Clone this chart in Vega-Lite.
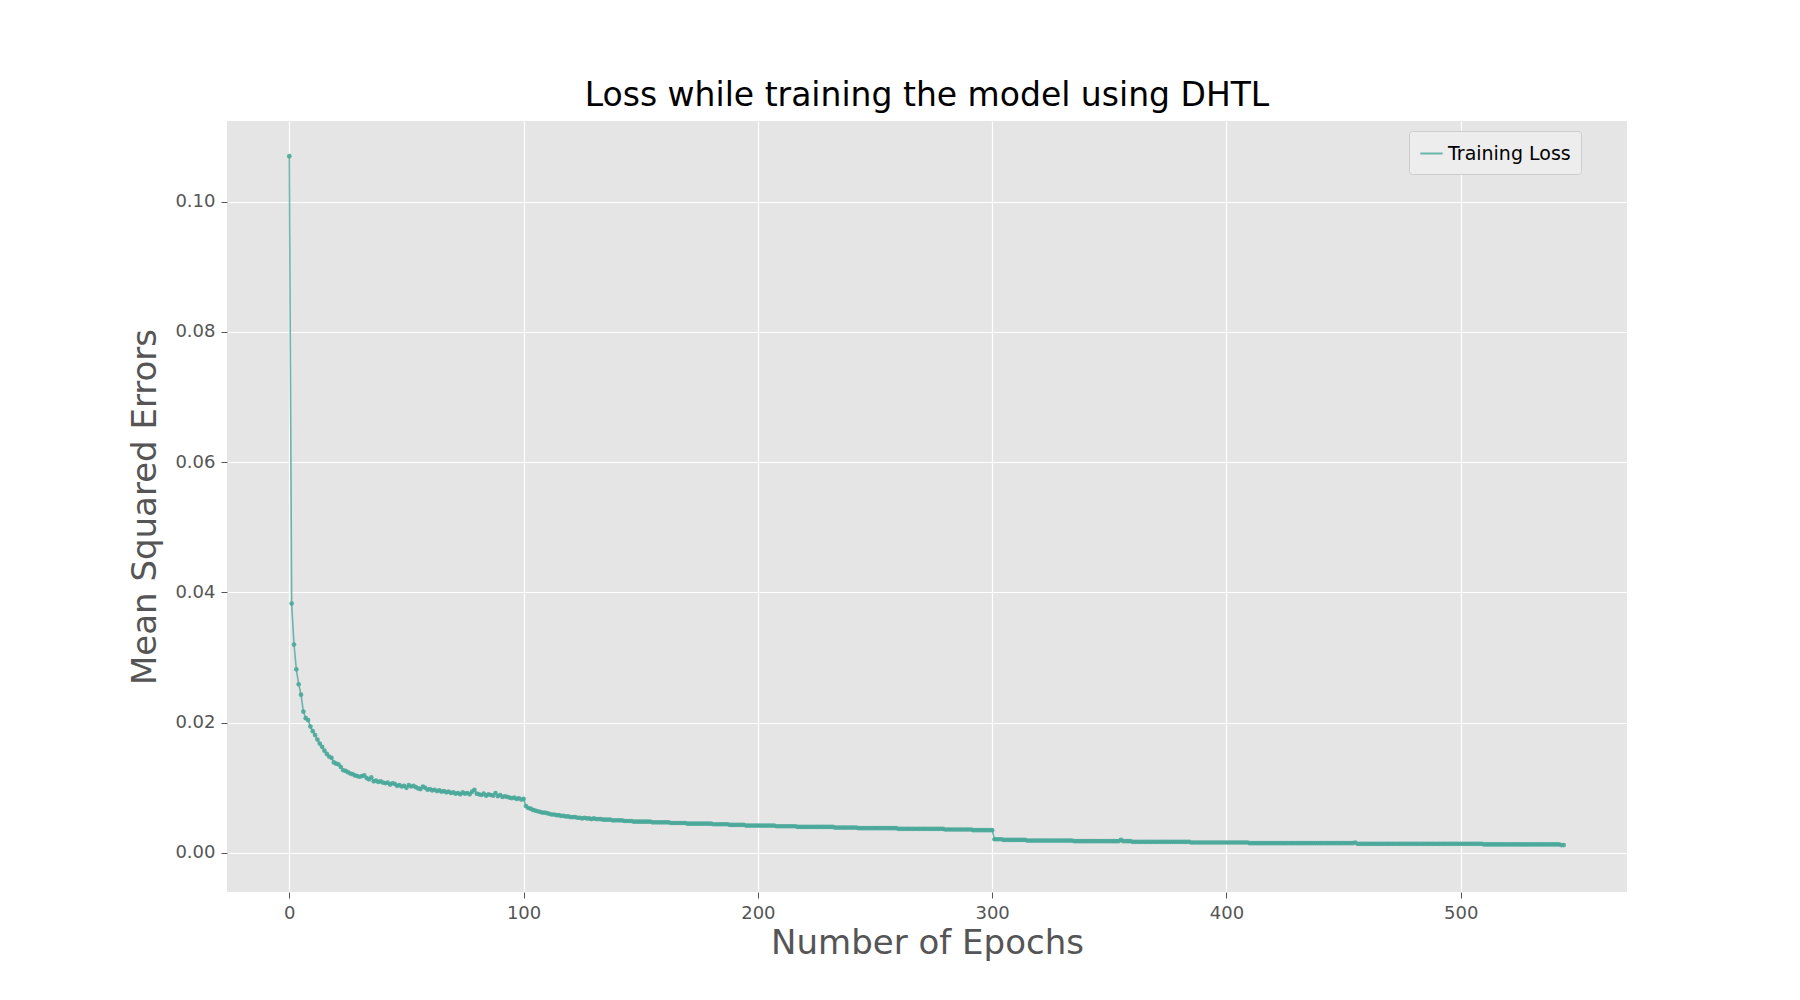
{
  "$schema": "https://vega.github.io/schema/vega-lite/v6.json",
  "autosize": {"type": "none"},
  "width": 1400, "height": 771,
  "padding": {"left": 227, "top": 121, "right": 173, "bottom": 108},
  "background": "white",
  "title": {"text": "Loss while training the model using DHTL", "font": "DejaVu Sans", "fontSize": 33, "fontWeight": "normal", "color": "black", "offset": 8},
  "config": {
    "view": {"fill": "#E5E5E5", "stroke": null},
    "axis": {"gridColor": "white", "gridWidth": 1.2, "domain": false, "tickColor": "#555", "tickSize": 6, "labelFont": "DejaVu Sans", "labelFontSize": 18, "labelColor": "#555", "titleFont": "DejaVu Sans", "titleFontSize": 34, "titleColor": "#555", "titleFontWeight": "normal"}
  },
  "data": {"values": [
{"e":0,"v":0.107},{"e":1,"v":0.0383},{"e":2,"v":0.032},{"e":3,"v":0.0282},{"e":4,"v":0.0259},{"e":5,"v":0.0243},{"e":6,"v":0.0217},{"e":7,"v":0.0207},{"e":8,"v":0.0204},{"e":9,"v":0.0194},{"e":10,"v":0.0187},{"e":11,"v":0.0181},{"e":12,"v":0.0174},{"e":13,"v":0.0168},{"e":14,"v":0.0163},{"e":15,"v":0.0157},{"e":16,"v":0.0152},{"e":17,"v":0.0148},{"e":18,"v":0.0146},{"e":19,"v":0.0139},{"e":20,"v":0.0137},{"e":21,"v":0.0136},{"e":22,"v":0.0132},{"e":23,"v":0.0127},{"e":24,"v":0.0126},
{"e":25,"v":0.0124},{"e":26,"v":0.0122},{"e":27,"v":0.0121},{"e":28,"v":0.0119},{"e":29,"v":0.0118},{"e":30,"v":0.0117},{"e":31,"v":0.0118},{"e":32,"v":0.0119},{"e":33,"v":0.0115},{"e":34,"v":0.0113},{"e":35,"v":0.0116},{"e":36,"v":0.0110},{"e":37,"v":0.0111},{"e":38,"v":0.0109},{"e":39,"v":0.0110},{"e":40,"v":0.0108},{"e":41,"v":0.0107},{"e":42,"v":0.0108},{"e":43,"v":0.0105},{"e":44,"v":0.0107},{"e":45,"v":0.0106},{"e":46,"v":0.0103},{"e":47,"v":0.0104},{"e":48,"v":0.0102},{"e":49,"v":0.0103},
{"e":50,"v":0.0100},{"e":51,"v":0.0104},{"e":52,"v":0.0102},{"e":53,"v":0.0103},{"e":54,"v":0.0101},{"e":55,"v":0.0099},{"e":56,"v":0.0098},{"e":57,"v":0.0102},{"e":58,"v":0.0100},{"e":59,"v":0.0097},{"e":60,"v":0.0098},{"e":61,"v":0.0096},{"e":62,"v":0.0097},{"e":63,"v":0.0095},{"e":64,"v":0.0096},{"e":65,"v":0.0094},{"e":66,"v":0.0095},{"e":67,"v":0.0093},{"e":68,"v":0.0094},{"e":69,"v":0.0092},{"e":70,"v":0.0093},{"e":71,"v":0.0091},{"e":72,"v":0.0092},{"e":73,"v":0.0090},{"e":74,"v":0.0093},
{"e":75,"v":0.0091},{"e":76,"v":0.0092},{"e":77,"v":0.0090},{"e":78,"v":0.0094},{"e":79,"v":0.0097},{"e":80,"v":0.0091},{"e":81,"v":0.0090},{"e":82,"v":0.0089},{"e":83,"v":0.0091},{"e":84,"v":0.0088},{"e":85,"v":0.0090},{"e":86,"v":0.0089},{"e":87,"v":0.0088},{"e":88,"v":0.0092},{"e":89,"v":0.0087},{"e":90,"v":0.0089},{"e":91,"v":0.0086},{"e":92,"v":0.0087},{"e":93,"v":0.0086},{"e":94,"v":0.0085},{"e":95,"v":0.0084},{"e":96,"v":0.0085},{"e":97,"v":0.0083},{"e":98,"v":0.0084},{"e":99,"v":0.0082},
{"e":100,"v":0.0083},{"e":101,"v":0.0072},{"e":102,"v":0.0069},{"e":103,"v":0.0068},{"e":104,"v":0.0066},{"e":105,"v":0.0065},{"e":106,"v":0.0064},{"e":107,"v":0.0063},{"e":108,"v":0.0062},{"e":109,"v":0.0062},{"e":110,"v":0.0061},{"e":111,"v":0.0060},{"e":112,"v":0.0059},{"e":113,"v":0.0059},{"e":114,"v":0.0058},{"e":115,"v":0.0058},{"e":116,"v":0.0057},{"e":117,"v":0.0057},{"e":118,"v":0.0056},{"e":119,"v":0.0056},{"e":120,"v":0.0055},{"e":121,"v":0.0055},{"e":122,"v":0.0055},{"e":123,"v":0.0054},{"e":124,"v":0.0054},
{"e":125,"v":0.0053},{"e":126,"v":0.0054},{"e":127,"v":0.0053},{"e":128,"v":0.0053},{"e":129,"v":0.0052},{"e":130,"v":0.0053},{"e":131,"v":0.0052},{"e":132,"v":0.0052},{"e":133,"v":0.0052},{"e":134,"v":0.0051},{"e":135,"v":0.0051},{"e":136,"v":0.0051},{"e":137,"v":0.0051},{"e":138,"v":0.0050},{"e":139,"v":0.0050},{"e":140,"v":0.0050},{"e":141,"v":0.0050},{"e":142,"v":0.0050},{"e":143,"v":0.0049},{"e":144,"v":0.0049},{"e":145,"v":0.0049},{"e":146,"v":0.0049},{"e":147,"v":0.0048},{"e":148,"v":0.0048},{"e":149,"v":0.0048},
{"e":150,"v":0.0048},{"e":151,"v":0.0048},{"e":152,"v":0.0048},{"e":153,"v":0.0048},{"e":154,"v":0.0048},{"e":155,"v":0.0047},{"e":156,"v":0.0047},{"e":157,"v":0.0047},{"e":158,"v":0.0047},{"e":159,"v":0.0047},{"e":160,"v":0.0047},{"e":161,"v":0.0047},{"e":162,"v":0.0047},{"e":163,"v":0.0046},{"e":164,"v":0.0046},{"e":165,"v":0.0046},{"e":166,"v":0.0046},{"e":167,"v":0.0046},{"e":168,"v":0.0046},{"e":169,"v":0.0046},{"e":170,"v":0.0045},{"e":171,"v":0.0045},{"e":172,"v":0.0045},{"e":173,"v":0.0045},{"e":174,"v":0.0045},
{"e":175,"v":0.0045},{"e":176,"v":0.0045},{"e":177,"v":0.0045},{"e":178,"v":0.0045},{"e":179,"v":0.0045},{"e":180,"v":0.0045},{"e":181,"v":0.0044},{"e":182,"v":0.0044},{"e":183,"v":0.0044},{"e":184,"v":0.0044},{"e":185,"v":0.0044},{"e":186,"v":0.0044},{"e":187,"v":0.0044},{"e":188,"v":0.0043},{"e":189,"v":0.0043},{"e":190,"v":0.0043},{"e":191,"v":0.0043},{"e":192,"v":0.0043},{"e":193,"v":0.0043},{"e":194,"v":0.0043},{"e":195,"v":0.0042},{"e":196,"v":0.0042},{"e":197,"v":0.0042},{"e":198,"v":0.0042},{"e":199,"v":0.0042},
{"e":200,"v":0.0042},{"e":201,"v":0.0042},{"e":202,"v":0.0042},{"e":203,"v":0.0042},{"e":204,"v":0.0042},{"e":205,"v":0.0042},{"e":206,"v":0.0042},{"e":207,"v":0.0042},{"e":208,"v":0.0041},{"e":209,"v":0.0041},{"e":210,"v":0.0041},{"e":211,"v":0.0041},{"e":212,"v":0.0041},{"e":213,"v":0.0041},{"e":214,"v":0.0041},{"e":215,"v":0.0041},{"e":216,"v":0.0041},{"e":217,"v":0.0040},{"e":218,"v":0.0040},{"e":219,"v":0.0040},{"e":220,"v":0.0040},{"e":221,"v":0.0040},{"e":222,"v":0.0040},{"e":223,"v":0.0040},{"e":224,"v":0.0040},
{"e":225,"v":0.0040},{"e":226,"v":0.0040},{"e":227,"v":0.0040},{"e":228,"v":0.0040},{"e":229,"v":0.0040},{"e":230,"v":0.0040},{"e":231,"v":0.0040},{"e":232,"v":0.0040},{"e":233,"v":0.0039},{"e":234,"v":0.0039},{"e":235,"v":0.0039},{"e":236,"v":0.0039},{"e":237,"v":0.0039},{"e":238,"v":0.0039},{"e":239,"v":0.0039},{"e":240,"v":0.0039},{"e":241,"v":0.0039},{"e":242,"v":0.0039},{"e":243,"v":0.0038},{"e":244,"v":0.0038},{"e":245,"v":0.0038},{"e":246,"v":0.0038},{"e":247,"v":0.0038},{"e":248,"v":0.0038},{"e":249,"v":0.0038},
{"e":250,"v":0.0038},{"e":251,"v":0.0038},{"e":252,"v":0.0038},{"e":253,"v":0.0038},{"e":254,"v":0.0038},{"e":255,"v":0.0038},{"e":256,"v":0.0038},{"e":257,"v":0.0038},{"e":258,"v":0.0038},{"e":259,"v":0.0038},{"e":260,"v":0.0037},{"e":261,"v":0.0037},{"e":262,"v":0.0037},{"e":263,"v":0.0037},{"e":264,"v":0.0037},{"e":265,"v":0.0037},{"e":266,"v":0.0037},{"e":267,"v":0.0037},{"e":268,"v":0.0037},{"e":269,"v":0.0037},{"e":270,"v":0.0037},{"e":271,"v":0.0037},{"e":272,"v":0.0037},{"e":273,"v":0.0037},{"e":274,"v":0.0037},
{"e":275,"v":0.0037},{"e":276,"v":0.0037},{"e":277,"v":0.0037},{"e":278,"v":0.0037},{"e":279,"v":0.0037},{"e":280,"v":0.0036},{"e":281,"v":0.0036},{"e":282,"v":0.0036},{"e":283,"v":0.0036},{"e":284,"v":0.0036},{"e":285,"v":0.0036},{"e":286,"v":0.0036},{"e":287,"v":0.0036},{"e":288,"v":0.0036},{"e":289,"v":0.0036},{"e":290,"v":0.0036},{"e":291,"v":0.0036},{"e":292,"v":0.0035},{"e":293,"v":0.0035},{"e":294,"v":0.0035},{"e":295,"v":0.0035},{"e":296,"v":0.0035},{"e":297,"v":0.0035},{"e":298,"v":0.0035},{"e":299,"v":0.0035},
{"e":300,"v":0.0035},{"e":301,"v":0.0021},{"e":302,"v":0.0021},{"e":303,"v":0.0021},{"e":304,"v":0.0021},{"e":305,"v":0.0020},{"e":306,"v":0.0020},{"e":307,"v":0.0020},{"e":308,"v":0.0020},{"e":309,"v":0.0020},{"e":310,"v":0.0020},{"e":311,"v":0.0020},{"e":312,"v":0.0020},{"e":313,"v":0.0020},{"e":314,"v":0.0020},{"e":315,"v":0.0019},{"e":316,"v":0.0019},{"e":317,"v":0.0019},{"e":318,"v":0.0019},{"e":319,"v":0.0019},{"e":320,"v":0.0019},{"e":321,"v":0.0019},{"e":322,"v":0.0019},{"e":323,"v":0.0019},{"e":324,"v":0.0019},
{"e":325,"v":0.0019},{"e":326,"v":0.0019},{"e":327,"v":0.0019},{"e":328,"v":0.0019},{"e":329,"v":0.0019},{"e":330,"v":0.0019},{"e":331,"v":0.0019},{"e":332,"v":0.0019},{"e":333,"v":0.0019},{"e":334,"v":0.0019},{"e":335,"v":0.0018},{"e":336,"v":0.0018},{"e":337,"v":0.0018},{"e":338,"v":0.0018},{"e":339,"v":0.0018},{"e":340,"v":0.0018},{"e":341,"v":0.0018},{"e":342,"v":0.0018},{"e":343,"v":0.0018},{"e":344,"v":0.0018},{"e":345,"v":0.0018},{"e":346,"v":0.0018},{"e":347,"v":0.0018},{"e":348,"v":0.0018},{"e":349,"v":0.0018},
{"e":350,"v":0.0018},{"e":351,"v":0.0018},{"e":352,"v":0.0018},{"e":353,"v":0.0018},{"e":354,"v":0.0018},{"e":355,"v":0.0020},{"e":356,"v":0.0018},{"e":357,"v":0.0018},{"e":358,"v":0.0018},{"e":359,"v":0.0018},{"e":360,"v":0.0017},{"e":361,"v":0.0017},{"e":362,"v":0.0017},{"e":363,"v":0.0017},{"e":364,"v":0.0017},{"e":365,"v":0.0017},{"e":366,"v":0.0017},{"e":367,"v":0.0017},{"e":368,"v":0.0017},{"e":369,"v":0.0017},{"e":370,"v":0.0017},{"e":371,"v":0.0017},{"e":372,"v":0.0017},{"e":373,"v":0.0017},{"e":374,"v":0.0017},
{"e":375,"v":0.0017},{"e":376,"v":0.0017},{"e":377,"v":0.0017},{"e":378,"v":0.0017},{"e":379,"v":0.0017},{"e":380,"v":0.0017},{"e":381,"v":0.0017},{"e":382,"v":0.0017},{"e":383,"v":0.0017},{"e":384,"v":0.0017},{"e":385,"v":0.0016},{"e":386,"v":0.0016},{"e":387,"v":0.0016},{"e":388,"v":0.0016},{"e":389,"v":0.0016},{"e":390,"v":0.0016},{"e":391,"v":0.0016},{"e":392,"v":0.0016},{"e":393,"v":0.0016},{"e":394,"v":0.0016},{"e":395,"v":0.0016},{"e":396,"v":0.0016},{"e":397,"v":0.0016},{"e":398,"v":0.0016},{"e":399,"v":0.0016},
{"e":400,"v":0.0016},{"e":401,"v":0.0016},{"e":402,"v":0.0016},{"e":403,"v":0.0016},{"e":404,"v":0.0016},{"e":405,"v":0.0016},{"e":406,"v":0.0016},{"e":407,"v":0.0016},{"e":408,"v":0.0016},{"e":409,"v":0.0016},{"e":410,"v":0.0015},{"e":411,"v":0.0015},{"e":412,"v":0.0015},{"e":413,"v":0.0015},{"e":414,"v":0.0015},{"e":415,"v":0.0015},{"e":416,"v":0.0015},{"e":417,"v":0.0015},{"e":418,"v":0.0015},{"e":419,"v":0.0015},{"e":420,"v":0.0015},{"e":421,"v":0.0015},{"e":422,"v":0.0015},{"e":423,"v":0.0015},{"e":424,"v":0.0015},
{"e":425,"v":0.0015},{"e":426,"v":0.0015},{"e":427,"v":0.0015},{"e":428,"v":0.0015},{"e":429,"v":0.0015},{"e":430,"v":0.0015},{"e":431,"v":0.0015},{"e":432,"v":0.0015},{"e":433,"v":0.0015},{"e":434,"v":0.0015},{"e":435,"v":0.0015},{"e":436,"v":0.0015},{"e":437,"v":0.0015},{"e":438,"v":0.0015},{"e":439,"v":0.0015},{"e":440,"v":0.0015},{"e":441,"v":0.0015},{"e":442,"v":0.0015},{"e":443,"v":0.0015},{"e":444,"v":0.0015},{"e":445,"v":0.0015},{"e":446,"v":0.0015},{"e":447,"v":0.0015},{"e":448,"v":0.0015},{"e":449,"v":0.0015},
{"e":450,"v":0.0015},{"e":451,"v":0.0015},{"e":452,"v":0.0015},{"e":453,"v":0.0015},{"e":454,"v":0.0015},{"e":455,"v":0.0016},{"e":456,"v":0.0014},{"e":457,"v":0.0014},{"e":458,"v":0.0014},{"e":459,"v":0.0014},{"e":460,"v":0.0014},{"e":461,"v":0.0014},{"e":462,"v":0.0014},{"e":463,"v":0.0014},{"e":464,"v":0.0014},{"e":465,"v":0.0014},{"e":466,"v":0.0014},{"e":467,"v":0.0014},{"e":468,"v":0.0014},{"e":469,"v":0.0014},{"e":470,"v":0.0014},{"e":471,"v":0.0014},{"e":472,"v":0.0014},{"e":473,"v":0.0014},{"e":474,"v":0.0014},
{"e":475,"v":0.0014},{"e":476,"v":0.0014},{"e":477,"v":0.0014},{"e":478,"v":0.0014},{"e":479,"v":0.0014},{"e":480,"v":0.0014},{"e":481,"v":0.0014},{"e":482,"v":0.0014},{"e":483,"v":0.0014},{"e":484,"v":0.0014},{"e":485,"v":0.0014},{"e":486,"v":0.0014},{"e":487,"v":0.0014},{"e":488,"v":0.0014},{"e":489,"v":0.0014},{"e":490,"v":0.0014},{"e":491,"v":0.0014},{"e":492,"v":0.0014},{"e":493,"v":0.0014},{"e":494,"v":0.0014},{"e":495,"v":0.0014},{"e":496,"v":0.0014},{"e":497,"v":0.0014},{"e":498,"v":0.0014},{"e":499,"v":0.0014},
{"e":500,"v":0.0014},{"e":501,"v":0.0014},{"e":502,"v":0.0014},{"e":503,"v":0.0014},{"e":504,"v":0.0014},{"e":505,"v":0.0014},{"e":506,"v":0.0014},{"e":507,"v":0.0014},{"e":508,"v":0.0014},{"e":509,"v":0.0014},{"e":510,"v":0.0013},{"e":511,"v":0.0013},{"e":512,"v":0.0013},{"e":513,"v":0.0013},{"e":514,"v":0.0013},{"e":515,"v":0.0013},{"e":516,"v":0.0013},{"e":517,"v":0.0013},{"e":518,"v":0.0013},{"e":519,"v":0.0013},{"e":520,"v":0.0013},{"e":521,"v":0.0013},{"e":522,"v":0.0013},{"e":523,"v":0.0013},{"e":524,"v":0.0013},
{"e":525,"v":0.0013},{"e":526,"v":0.0013},{"e":527,"v":0.0013},{"e":528,"v":0.0013},{"e":529,"v":0.0013},{"e":530,"v":0.0013},{"e":531,"v":0.0013},{"e":532,"v":0.0013},{"e":533,"v":0.0013},{"e":534,"v":0.0013},{"e":535,"v":0.0013},{"e":536,"v":0.0013},{"e":537,"v":0.0013},{"e":538,"v":0.0013},{"e":539,"v":0.0013},{"e":540,"v":0.0013},{"e":541,"v":0.0013},{"e":542,"v":0.0013},{"e":543,"v":0.0012},{"e":544,"v":0.0012}
  ]},
  "transform": [{"calculate": "'Training Loss'", "as": "series"}],
  "mark": {"type": "line", "strokeWidth": 1.6, "opacity": 0.8, "point": {"filled": true, "size": 22, "opacity": 0.9}},
  "encoding": {
    "x": {"field": "e", "type": "quantitative", "title": "Number of Epochs", "scale": {"domain": [-26.6, 571], "nice": false, "zero": false}, "axis": {"values": [0, 100, 200, 300, 400, 500], "titlePadding": 4, "labelPadding": 6}},
    "y": {"field": "v", "type": "quantitative", "title": "Mean Squared Errors", "scale": {"domain": [-0.006, 0.1124], "nice": false, "zero": false}, "axis": {"values": [0, 0.02, 0.04, 0.06, 0.08, 0.1], "format": ".2f", "titlePadding": 12, "labelPadding": 6}},
    "color": {"field": "series", "type": "nominal", "scale": {"range": ["#4AA99A"]}, "legend": {"title": null, "orient": "none", "legendX": 1182, "legendY": 10, "symbolType": "stroke", "symbolSize": 500, "symbolStrokeWidth": 2, "labelFont": "DejaVu Sans", "labelFontSize": 19, "labelColor": "black", "fillColor": "#EDEDED", "strokeColor": "#CCCCCC", "padding": 10, "cornerRadius": 3}}
  }
}
